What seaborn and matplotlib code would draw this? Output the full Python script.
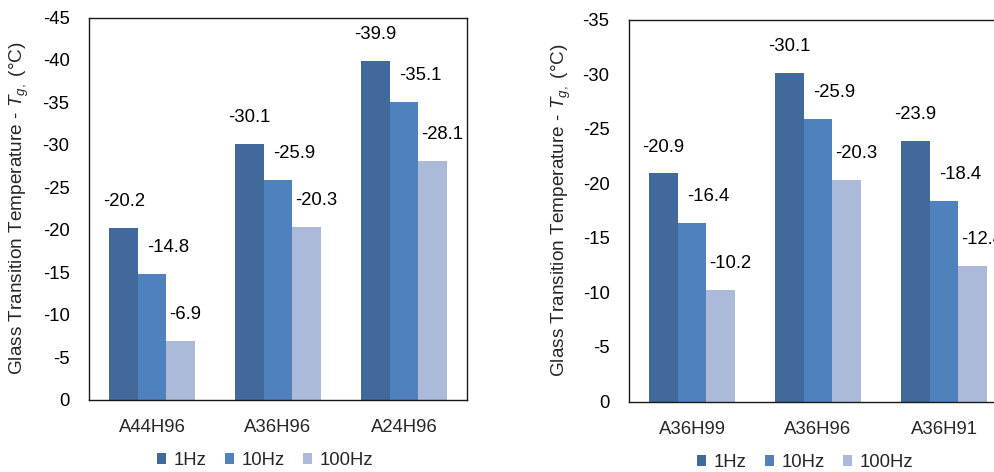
import matplotlib

matplotlib.use("Agg")
import matplotlib.pyplot as plt
import numpy as np
import pandas as pd
import seaborn as sns
from matplotlib.patches import Patch
from matplotlib.ticker import FixedLocator

FREQS = ["1Hz", "10Hz", "100Hz"]
COLORS = ["#41699B", "#4F81BD", "#AABAD8"]

LEFT_SAMPLES = ["A44H96", "A36H96", "A24H96"]
LEFT_1HZ = [-20.2, -30.1, -39.9]
LEFT_10HZ = [-14.8, -25.9, -35.1]
LEFT_100HZ = [-6.9, -20.3, -28.1]

RIGHT_SAMPLES = ["A36H99", "A36H96", "A36H91"]
RIGHT_1HZ = [-20.9, -30.1, -23.9]
RIGHT_10HZ = [-16.4, -25.9, -18.4]
RIGHT_100HZ = [-10.2, -20.3, -12.4]

YLABEL = "Glass Transition Temperature - $T_{g,}$ (°C)"
FONT = 13.3

# label placement per frequency: (anchor on bar, horizontal alignment, x shift in px)
LABEL_POS = [("center", "center", 0), ("left", "left", 9), ("left", "left", 2.5)]


def _to_long(samples, v1, v10, v100):
    rows = []
    for freq, vals in zip(FREQS, [v1, v10, v100]):
        for s, v in zip(samples, vals):
            rows.append({"sample": s, "freq": freq, "tg": v})
    return pd.DataFrame(rows)


def _draw_panel(ax, df, samples, ymin):
    sns.barplot(
        data=df, x="sample", y="tg", hue="freq", order=samples,
        hue_order=FREQS, palette=COLORS, saturation=1, width=0.675,
        linewidth=0, errorbar=None, legend=False, ax=ax,
    )
    for container, (anchor, ha, dx) in zip(ax.containers, LABEL_POS):
        for bar in container:
            val = bar.get_height()
            x = bar.get_x() + (bar.get_width() / 2 if anchor == "center" else 0)
            ax.annotate(
                f"{val:.1f}", (x, val),
                xytext=(dx * 0.72, 19), textcoords="offset points",
                ha=ha, va="center", fontsize=FONT, color="black",
            )

    ax.set_ylim(0, ymin)
    ax.set_yticks(np.arange(0, ymin - 1, -5))
    ax.set_xlim(-0.5, len(samples) - 0.5)
    ax.xaxis.set_minor_locator(FixedLocator(np.arange(0.5, len(samples) - 1, 1)))
    ax.tick_params(axis="y", direction="in", length=4.5, width=0.8,
                   pad=14, labelsize=FONT, colors="black")
    ax.tick_params(axis="x", which="major", length=0, pad=14, labelsize=FONT)
    ax.tick_params(axis="x", which="minor", direction="in", length=3,
                   width=0.8, color="black")
    for spine in ax.spines.values():
        spine.set_visible(True)
        spine.set_color("#1a1a1a")
        spine.set_linewidth(1.0)
    ax.set_xlabel("")
    ax.set_ylabel(YLABEL, fontsize=13.7)

    handles = [Patch(facecolor=c, edgecolor="none", label=f) for c, f in zip(COLORS, FREQS)]
    ax.legend(
        handles=handles, loc="center", bbox_to_anchor=(0.5 - 13 / 378, -0.16),
        ncol=3, frameon=False, fontsize=FONT, handlelength=0.5,
        handleheight=0.5, handletextpad=0.4, columnspacing=1.0,
    )


sns.set_theme(style="white")
plt.rcParams["font.family"] = ["Liberation Sans", "DejaVu Sans"]
plt.rcParams["axes.unicode_minus"] = False
plt.rcParams["mathtext.fontset"] = "custom"
plt.rcParams["mathtext.rm"] = "Liberation Sans"
plt.rcParams["mathtext.it"] = "Liberation Sans:italic"

fig = plt.figure(figsize=(9.95, 4.72), dpi=100)
W, H = 995, 472
ax1 = fig.add_axes([89 / W, (H - 399.5) / H, 378 / W, 382 / H])
ax2 = fig.add_axes([629 / W, (H - 401.5) / H, 378 / W, 382 / H])

_draw_panel(ax1, _to_long(LEFT_SAMPLES, LEFT_1HZ, LEFT_10HZ, LEFT_100HZ), LEFT_SAMPLES, -45)
_draw_panel(ax2, _to_long(RIGHT_SAMPLES, RIGHT_1HZ, RIGHT_10HZ, RIGHT_100HZ), RIGHT_SAMPLES, -35)
ax1.yaxis.set_label_coords(-0.153, 0.5)
ax2.yaxis.set_label_coords(-0.148, 0.5)

fig.savefig("out.png", dpi=100)
